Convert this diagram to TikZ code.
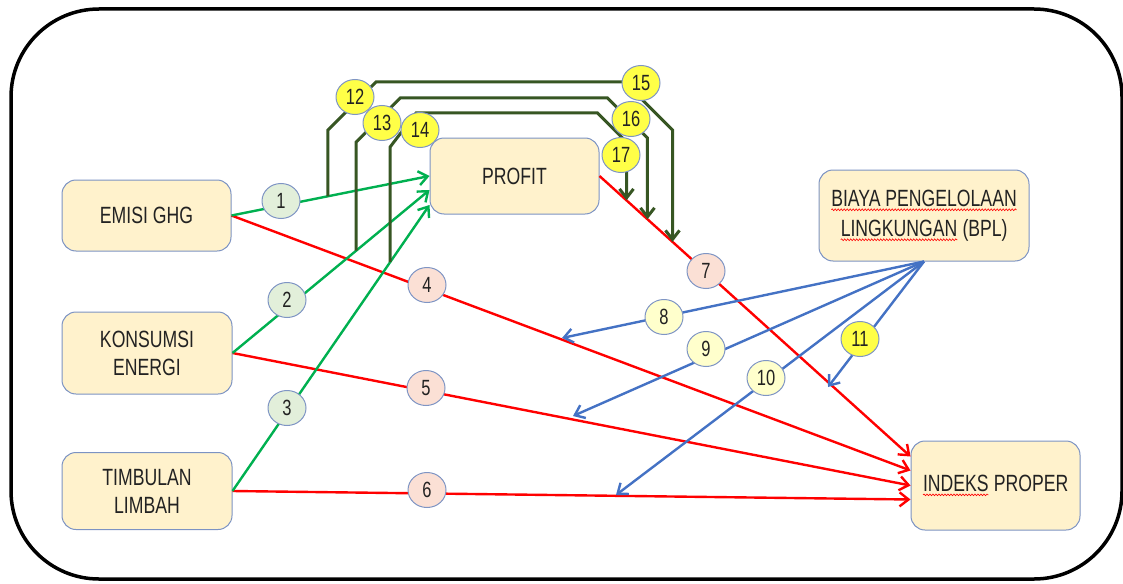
\documentclass[tikz,border=0pt]{standalone}
\usepackage{fontspec}
\setmainfont{Liberation Sans}[FakeStretch=0.75]
\usetikzlibrary{arrows.meta,calc,shapes.geometric,decorations.pathmorphing}
\definecolor{boxfill}{HTML}{FFF2CC}
\definecolor{boxdraw}{HTML}{7C93C3}
\definecolor{txt}{HTML}{222222}
\definecolor{gline}{HTML}{00B050}
\definecolor{rline}{HTML}{FF0000}
\definecolor{bline}{HTML}{4472C4}
\definecolor{dkg}{HTML}{375623}
\definecolor{gfill}{HTML}{E2EFDA}
\definecolor{rfill}{HTML}{FBE0D5}
\definecolor{yfill}{HTML}{FFFFCC}
\definecolor{yel}{HTML}{FFFF47}
\definecolor{cdraw}{HTML}{7F95C4}
\newcommand\squig[1]{\tikz[baseline=(w.base)]{\node[draw=none,fill=none,rounded corners=0pt,inner sep=0pt,outer sep=0pt,minimum width=0pt,minimum height=0pt,text=txt,shape=rectangle] (w) {#1};
  \draw[draw=red,fill=none,line width=0.6pt,rounded corners=0pt,decorate,decoration={snake,amplitude=0.9pt,segment length=3pt}] ([yshift=-3.5pt]w.base west) -- ([yshift=-3.5pt]w.base east);}}
\tikzset{
  box/.style={draw=boxdraw, fill=boxfill, rounded corners=14pt, line width=1pt,
    align=center, text=txt, inner sep=0pt, font=\fontsize{23.5}{28}\selectfont},
  num/.style={ellipse, draw=cdraw, line width=1pt, minimum width=38pt, minimum height=35pt,
    inner sep=0pt, text=txt, font=\fontsize{22}{22}\selectfont},
  numg/.style={num, fill=gfill},
  numr/.style={num, fill=rfill},
  numy/.style={num, fill=yfill},
  numY/.style={num, fill=yel},
  tip/.style={-{Straight Barb[length=9pt,width=14pt]}},
  garrow/.style={tip, draw=gline, line width=2.4pt},
  rarrow/.style={tip, draw=rline, line width=2.4pt},
  barrow/.style={tip, draw=bline, line width=2.4pt},
  darrow/.style={tip, draw=dkg, line width=3pt},
}
\begin{document}
\begin{tikzpicture}[x=1pt,y=-1pt]
\useasboundingbox (0,0) rectangle (1123,583);
\draw[line width=3.5pt, rounded corners=88pt] (11,9) rectangle (1122,579);

\node[box, minimum width=169pt, minimum height=71pt] (emisi) at (146.5,215.5) {EMISI GHG};
\node[box, minimum width=170pt, minimum height=82pt] (konsumsi) at (147,353) {KONSUMSI\\ENERGI};
\node[box, minimum width=170pt, minimum height=77pt] (timbulan) at (147,491) {TIMBULAN\\LIMBAH};
\node[box, minimum width=169pt, minimum height=76pt] (profit) at (514.5,176) {PROFIT};
\node[box, minimum width=210pt, minimum height=91pt, font=\fontsize{23.5}{30}\selectfont] (bpl) at (924,215.5) {\squig{BIAYA PENGELOLAAN}\\\squig{LINGKUNGAN} (BPL)};
\node[box, minimum width=169pt, minimum height=89pt] (indeks) at (995.5,485.5) {\squig{INDEKS} PROPER};

\coordinate (p2) at ([yshift=-14pt]profit.west);
\coordinate (p3) at ([yshift=-29pt]profit.west);
\coordinate (i7) at ([yshift=29pt]indeks.west);
\coordinate (i4) at ([yshift=15pt]indeks.west);
\coordinate (i6) at ([yshift=-14pt]indeks.west);
\coordinate (e8) at (562,338);
\coordinate (e9) at (573,416);
\coordinate (e10) at (616,495);
\coordinate (e11) at (828,387);

% red
\draw[rarrow] (profit.east) -- (i7);
\draw[rarrow] (emisi.east) -- (i4);
\draw[rarrow] (konsumsi.east) -- (indeks.west);
\draw[rarrow] (timbulan.east) -- (i6);
% green
\draw[garrow] (emisi.east) -- (profit.west);
\draw[garrow] (konsumsi.east) -- (p2);
\draw[garrow] (timbulan.east) -- (p3);
% blue
\draw[barrow] (bpl.south) -- (e8);
\draw[barrow] (bpl.south) -- (e9);
\draw[barrow] (bpl.south) -- (e10);
\draw[barrow] (bpl.south) -- (e11);

% moderation brackets
\coordinate (s12) at ($(emisi.east)!0.487!(profit.west)$);
\coordinate (s13) at ($(konsumsi.east)!0.628!(p2)$);
\coordinate (s14) at ($(timbulan.east)!0.8!(p3)$);
\coordinate (e15) at ($(profit.east)!0.2347!(i7)$);
\coordinate (e16) at ($(profit.east)!0.1543!(i7)$);
\coordinate (e17) at ($(profit.east)!0.0868!(i7)$);
\draw[darrow] (s12) -- (s12 |- 0,130) -- ++(48,-48) -- ($(e15 |- 0,82)+(-48,0)$) -- (e15 |- 0,130) -- (e15);
\draw[darrow] (s13) -- (s13 |- 0,142) -- ++(44,-44) -- ($(e16 |- 0,98)+(-40,0)$) -- (e16 |- 0,138) -- (e16);
\draw[darrow] (s14) -- (s14 |- 0,147) -- ++(26,-34) -- ($(e17 |- 0,113)+(-29,0)$) -- (e17 |- 0,142) -- (e17);

% labels
\node[numg] (n1) at (281,201) {1};
\node[numg] (n2) at (287,300) {2};
\node[numg] (n3) at (287,408) {3};
\node[numr] (n4) at (427,285) {4};
\node[numr] (n5) at (426,388) {5};
\node[numr] (n6) at (427,490) {6};
\node[numr] (n7) at (706,271) {7};
\node[numy] (n8) at (664,317) {8};
\node[numy] (n9) at (706,349) {9};
\node[numy] (n10) at (766,378) {10};
\node[numY] (n11) at (860,339) {11};
\node[numY] (n12) at (355,97) {12};
\node[numY] (n13) at (382,123) {13};
\node[numY] (n14) at (420,130) {14};
\node[numY] (n15) at (641,83) {15};
\node[numY] (n16) at (631,119) {16};
\node[numY] (n17) at (621,155) {17};
\end{tikzpicture}
\end{document}
